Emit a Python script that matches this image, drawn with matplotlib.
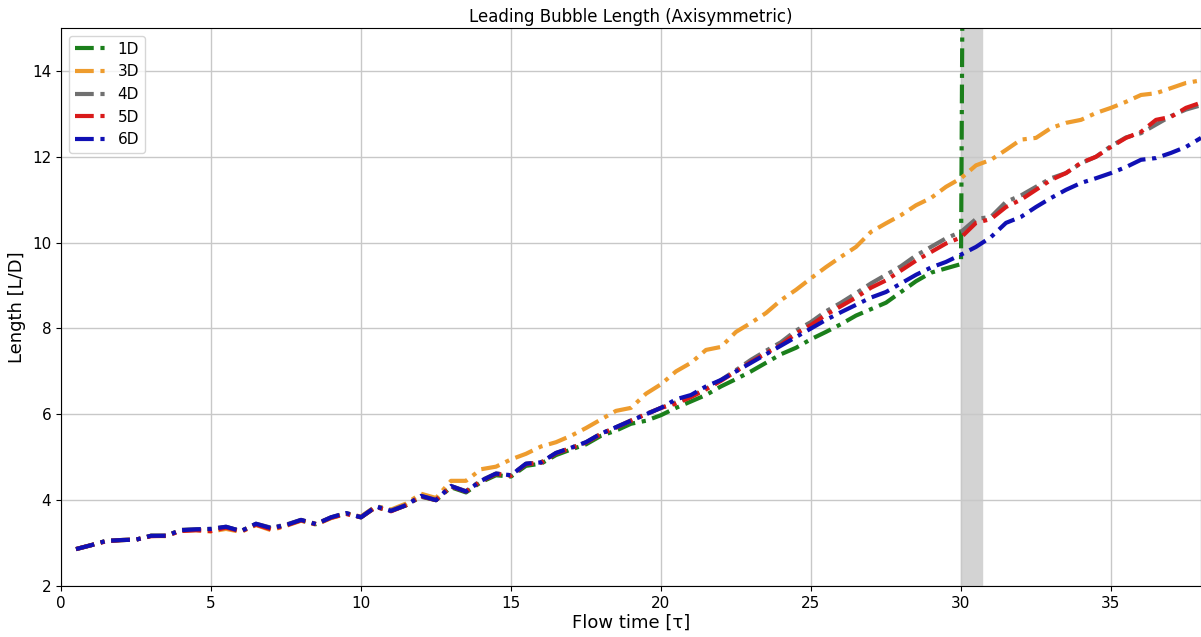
import matplotlib
matplotlib.use("Agg")
import matplotlib.pyplot as plt

time = [0.5, 1.0, 1.5, 2.0, 2.5, 3.0, 3.5, 4.0, 4.5, 5.0,
        5.5, 6.0, 6.5, 7.0, 7.5, 8.0, 8.5, 9.0, 9.5, 10.0,
        10.5, 11.0, 11.5, 12.0, 12.5, 13.0, 13.5, 14.0, 14.5, 15.0,
        15.5, 16.0, 16.5, 17.0, 17.5, 18.0, 18.5, 19.0, 19.5, 20.0,
        20.5, 21.0, 21.5, 22.0, 22.5, 23.0, 23.5, 24.0, 24.5, 25.0,
        25.5, 26.0, 26.5, 27.0, 27.5, 28.0, 28.5, 29.0, 29.5, 30.0,
        30.5, 31.0, 31.5, 32.0, 32.5, 33.0, 33.5, 34.0, 34.5, 35.0,
        35.5, 36.0, 36.5, 37.0, 37.5, 38.0]

# 1D blows up just after t = 30
time_1d = time[:60] + [30.05]
len_1d = [2.86, 2.95, 3.05, 3.07, 3.08, 3.17, 3.17, 3.30, 3.31, 3.32,
          3.37, 3.28, 3.44, 3.34, 3.42, 3.53, 3.44, 3.59, 3.69, 3.60,
          3.84, 3.75, 3.88, 4.08, 4.00, 4.30, 4.18, 4.42, 4.58, 4.55,
          4.80, 4.85, 5.05, 5.18, 5.30, 5.50, 5.62, 5.78, 5.85, 5.98,
          6.15, 6.30, 6.45, 6.65, 6.82, 7.00, 7.20, 7.40, 7.55, 7.75,
          7.92, 8.10, 8.30, 8.45, 8.60, 8.85, 9.10, 9.30, 9.40, 9.50,
          16.0]

len_3d = [2.86, 2.95, 3.05, 3.07, 3.08, 3.17, 3.16, 3.29, 3.30, 3.27,
          3.33, 3.26, 3.42, 3.30, 3.40, 3.52, 3.43, 3.58, 3.68, 3.62,
          3.86, 3.78, 3.92, 4.15, 4.05, 4.45, 4.45, 4.72, 4.78, 4.95,
          5.08, 5.25, 5.35, 5.50, 5.68, 5.88, 6.08, 6.15, 6.48, 6.70,
          7.00, 7.20, 7.50, 7.57, 7.92, 8.13, 8.36, 8.66, 8.90, 9.17,
          9.43, 9.67, 9.90, 10.25, 10.45, 10.64, 10.87, 11.04, 11.30, 11.50,
          11.80, 11.93, 12.16, 12.40, 12.44, 12.67, 12.79, 12.86, 13.02, 13.14,
          13.28, 13.44, 13.48, 13.60, 13.72, 13.78]

len_4d = [2.86, 2.95, 3.05, 3.07, 3.08, 3.17, 3.17, 3.31, 3.32, 3.33,
          3.38, 3.28, 3.45, 3.36, 3.43, 3.54, 3.45, 3.60, 3.70, 3.61,
          3.86, 3.76, 3.89, 4.10, 4.01, 4.33, 4.21, 4.46, 4.62, 4.58,
          4.85, 4.88, 5.10, 5.22, 5.35, 5.55, 5.70, 5.86, 6.01, 6.15,
          6.28, 6.42, 6.60, 6.80, 7.03, 7.27, 7.48, 7.68, 7.95, 8.15,
          8.40, 8.60, 8.82, 9.05, 9.25, 9.45, 9.70, 9.90, 10.10, 10.25,
          10.55, 10.60, 10.95, 11.10, 11.30, 11.50, 11.62, 11.85, 12.00, 12.25,
          12.45, 12.55, 12.75, 12.95, 13.10, 13.20]

len_5d = [2.86, 2.95, 3.04, 3.07, 3.08, 3.16, 3.17, 3.28, 3.30, 3.28,
          3.36, 3.27, 3.43, 3.32, 3.41, 3.53, 3.44, 3.59, 3.68, 3.60,
          3.84, 3.74, 3.88, 4.09, 4.00, 4.32, 4.20, 4.44, 4.61, 4.57,
          4.84, 4.87, 5.09, 5.21, 5.34, 5.54, 5.69, 5.85, 6.00, 6.15,
          6.25, 6.40, 6.58, 6.78, 7.00, 7.22, 7.42, 7.62, 7.88, 8.08,
          8.32, 8.52, 8.72, 8.95, 9.12, 9.35, 9.58, 9.78, 9.98, 10.12,
          10.46, 10.55, 10.83, 11.00, 11.23, 11.46, 11.62, 11.86, 12.00, 12.23,
          12.44, 12.58, 12.86, 12.93, 13.14, 13.26]

len_6d = [2.86, 2.95, 3.05, 3.07, 3.08, 3.17, 3.17, 3.30, 3.32, 3.33,
          3.38, 3.28, 3.45, 3.35, 3.42, 3.54, 3.44, 3.60, 3.70, 3.60,
          3.85, 3.75, 3.88, 4.10, 4.00, 4.33, 4.20, 4.45, 4.62, 4.58,
          4.85, 4.88, 5.10, 5.22, 5.35, 5.55, 5.70, 5.85, 6.00, 6.15,
          6.35, 6.45, 6.65, 6.80, 7.00, 7.20, 7.40, 7.60, 7.80, 8.00,
          8.20, 8.38, 8.55, 8.72, 8.85, 9.05, 9.25, 9.42, 9.55, 9.72,
          9.90, 10.13, 10.46, 10.60, 10.83, 11.04, 11.23, 11.39, 11.50, 11.62,
          11.76, 11.93, 11.97, 12.09, 12.23, 12.44]

plt.rcParams['font.size'] = 11

fig = plt.figure(figsize=(12.01, 6.37), dpi=100)
ax = fig.add_axes([61 / 1201, 51 / 637, 1 - 61 / 1201, 558 / 637])

dd = (0, (4.5, 1.6, 1.0, 1.6))
ax.plot(time_1d, len_1d, color='#1b7f1b', lw=3, linestyle=dd, label='1D')
ax.plot(time, len_3d, color='#ee9c2e', lw=3, linestyle=dd, label='3D')
ax.plot(time, len_4d, color='#707070', lw=3, linestyle=dd, label='4D')
ax.plot(time, len_5d, color='#d91a1a', lw=3, linestyle=dd, label='5D')
ax.plot(time, len_6d, color='#1010b4', lw=3, linestyle=dd, label='6D')

ax.axvspan(30, 30.7, color='lightgray', zorder=0)

ax.set_xlim(0, 38)
ax.set_ylim(2, 15)
ax.set_yticks([2, 4, 6, 8, 10, 12, 14])
ax.set_xticks([0, 5, 10, 15, 20, 25, 30, 35])
ax.grid(True, color='#c8c8c8', lw=1)
ax.set_axisbelow(True)

ax.set_title("Leading Bubble Length (Axisymmetric)", fontsize=12, pad=4)
ax.set_xlabel("Flow time [τ]", fontsize=13, labelpad=2)
ax.set_ylabel("Length [L/D]", fontsize=13)
ax.legend(loc='upper left', fontsize=11)

fig.savefig("out.png", dpi=100)
